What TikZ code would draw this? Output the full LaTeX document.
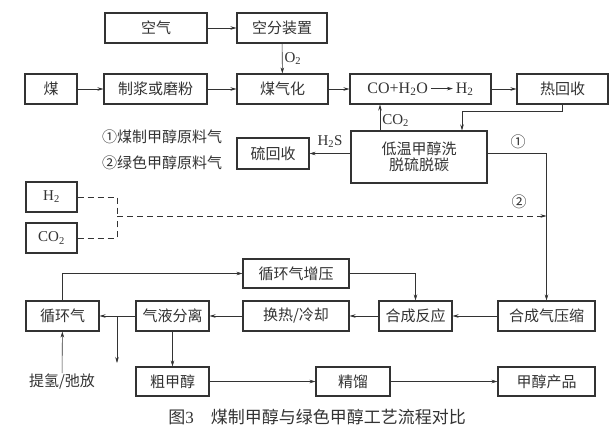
\documentclass[tikz,border=0pt]{standalone}
\usepackage{fontspec}
\setmainfont{Liberation Serif}
\newfontfamily\cjk{Noto Sans CJK SC}
\usetikzlibrary{arrows.meta}
\definecolor{ink}{HTML}{333333}
\tikzset{
  box/.style={draw=ink, line width=1.1pt, minimum height=30pt, inner sep=0pt,
    text=ink, font=\cjk\fontsize{15}{17}\selectfont},
  flow/.style={draw=ink, line width=0.6pt, -{Stealth[length=6pt,width=3.5pt]}},
  lbl/.style={text=ink, font=\cjk\fontsize{15}{17}\selectfont, inner sep=1pt},
  chem/.style={text=ink, font=\fontsize{15}{17}\selectfont},
}

\begin{document}
\begin{tikzpicture}[x=1pt, y=-1pt]
	\useasboundingbox[fill=white] (0,0) rectangle (616,436);
	
	% top rows
	\node[box, minimum width=102pt] (air) at (156,28) {空气};
	\node[box, minimum width=90pt] (asu) at (282,28) {空分装置};
	\node[box, minimum width=52pt] (coal) at (51,89) {煤};
	\node[box, minimum width=103pt] (prep) at (155.5,89) {制浆或磨粉};
	\node[box, minimum width=91pt] (gasif) at (282.5,89) {煤气化};
	\node[box, minimum width=141pt, font=\fontsize{16}{18}\selectfont] (shift) at (420.5,89)
		{CO+H\textsubscript{2}O\,\tikz[baseline=-0.6ex]\draw[flow] (0,0) -- (22pt,0);\,H\textsubscript{2}};
	\node[box, minimum width=91pt] (heat) at (562.5,89) {热回收};
	
	% gas cleaning
	\node[box, minimum width=136pt, minimum height=52pt, align=center] (rectisol) at (419,157)
		{低温甲醇洗\\[-1pt]脱硫脱碳};
	\node[box, minimum width=72pt, minimum height=31pt] (sulf) at (273,153.5) {硫回收};
	\node[lbl, anchor=west] (leg1) at (101,137) {①煤制甲醇原料气};
	\node[lbl, anchor=west] (leg2) at (101,163) {②绿色甲醇原料气};
	
	% green feed
	\node[box, minimum width=51pt, font=\fontsize{15}{17}\selectfont] (h2) at (51.5,197) {H\textsubscript{2}};
	\node[box, minimum width=51pt, font=\fontsize{15}{17}\selectfont] (co2) at (51.5,238) {CO\textsubscript{2}};
	
	% synthesis loop
	\node[box, minimum width=106pt, minimum height=29pt] (recomp) at (296,273.5) {循环气增压};
	\node[box, minimum width=73pt] (recyc) at (62.5,316) {循环气};
	\node[box, minimum width=73pt] (sep) at (172.5,316) {气液分离};
	\node[box, minimum width=106pt] (cool) at (296,316) {换热/冷却};
	\node[box, minimum width=73pt] (react) at (415.5,316) {合成反应};
	\node[box, minimum width=97pt] (comp) at (546.5,316) {合成气压缩};
	\node[box, minimum width=73pt, minimum height=29pt] (crude) at (172.5,381.5) {粗甲醇};
	\node[box, minimum width=74pt, minimum height=29pt] (dist) at (353,381.5) {精馏};
	\node[box, minimum width=97pt, minimum height=29pt] (prod) at (546.5,381.5) {甲醇产品};
	\node[lbl] (purge) at (62,382) {提氢/弛放};
	
	\node[text=ink, font=\cjk\fontsize{17}{20}\selectfont] (cap) at (317,417)
		{图{\rmfamily 3}\quad 煤制甲醇与绿色甲醇工艺流程对比};
	
	% connectors
	\draw[flow] (air) -- (asu);
	\draw[flow] (asu) -- node[right, chem, inner sep=2pt] {O\textsubscript{2}} (gasif);
	\draw[flow] (coal) -- (prep);
	\draw[flow] (prep) -- (gasif);
	\draw[flow] (gasif) -- (shift);
	\draw[flow] (shift) -- (heat);
	
	\coordinate (j1) at (462,111);
	\draw[flow] (heat.south) |- (j1) -- (rectisol.north -| j1);
	\coordinate (cotap) at (380,120);
	\draw[flow] (rectisol.north -| cotap) -- node[right, chem, inner sep=2pt, yshift=-3pt] {CO\textsubscript{2}} (shift.south -| cotap);
	\draw[flow] (rectisol.west |- sulf.east) -- node[above, chem, pos=0.5, yshift=2pt] {H\textsubscript{2}S} (sulf.east);
	\draw[flow] (rectisol.east |- sulf.east) -| (comp.north);
	\node[lbl] (n1) at (518,142) {①};
	
	\coordinate (dj) at (117,216);
	\draw[ink, line width=0.6pt, dash pattern=on 6pt off 4pt] (h2.east) -| (dj);
	\draw[ink, line width=0.6pt, dash pattern=on 6pt off 4pt] (co2.east) -| (dj);
	\draw[flow, dash pattern=on 6pt off 4pt] (dj) -- (dj -| comp.north);
	\node[lbl] (n2) at (519,202) {②};
	
	\draw[flow] (comp) -- (react);
	\draw[flow] (react) -- (cool);
	\draw[flow] (cool) -- (sep);
	\draw[flow] (sep) -- (recyc);
	\coordinate (vent) at (117,363);
	\draw[flow] (sep.west -| vent) -- (vent);
	\draw[flow] (purge) -- (recyc);
	\draw[flow] (recyc.north) |- (recomp.west);
	\draw[flow] (recomp.east) -| (react.north);
	\draw[flow] (sep) -- (crude);
	\draw[flow] (crude) -- (dist);
	\draw[flow] (dist) -- (prod);
\end{tikzpicture}
\end{document}
